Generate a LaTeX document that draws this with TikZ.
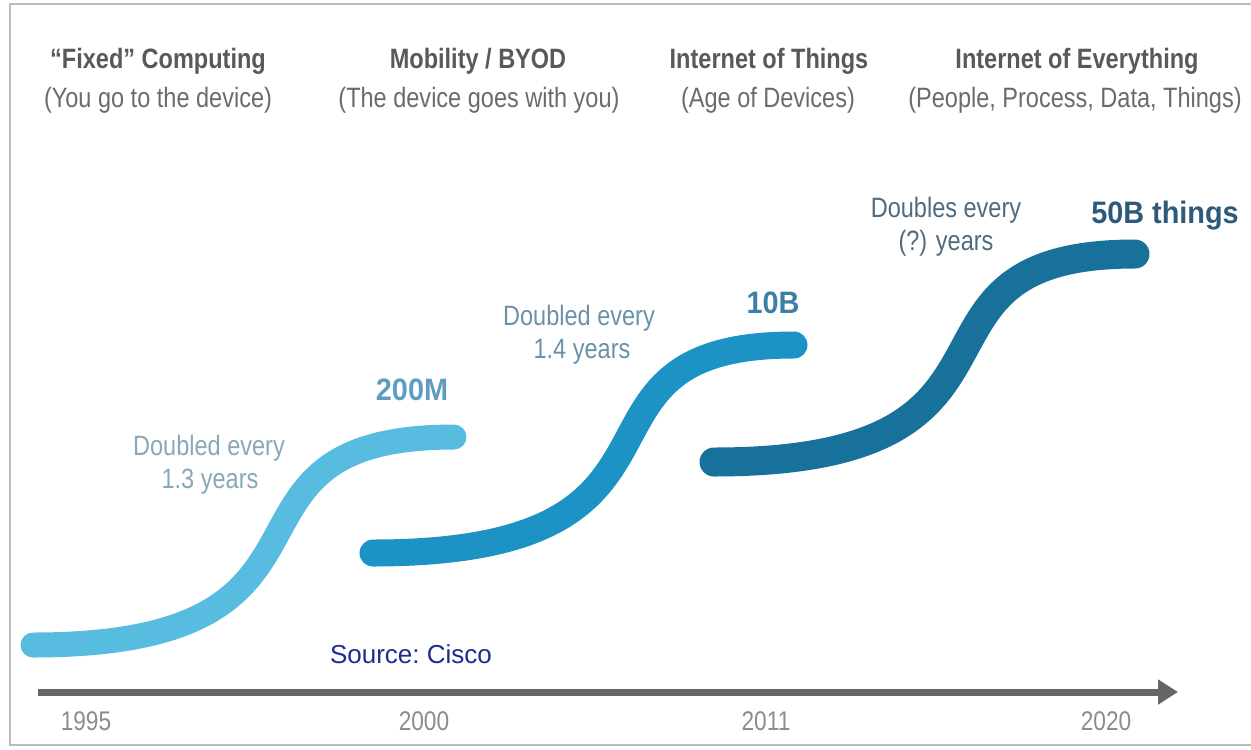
\documentclass[tikz,border=0pt]{standalone}
\usepackage{fontspec}
\setmainfont{Liberation Sans}[FakeStretch=0.84]
\newfontfamily\countfont{Liberation Sans}[FakeStretch=0.93]
\newfontfamily\srcfont{Liberation Sans}
\usetikzlibrary{arrows.meta}

\definecolor{frame}{HTML}{BDBDBD}
\definecolor{headgray}{HTML}{595959}
\definecolor{subgray}{HTML}{6B6B6B}
\definecolor{yeargray}{HTML}{8C8C8C}
\definecolor{axisgray}{HTML}{666666}
\definecolor{wave1}{HTML}{58BBE0}
\definecolor{wave2}{HTML}{1C93C4}
\definecolor{wave3}{HTML}{17719A}
\definecolor{rate1}{HTML}{86A8BA}
\definecolor{rate2}{HTML}{6A91A8}
\definecolor{rate3}{HTML}{4E6B80}
\definecolor{count1}{HTML}{5F9DC0}
\definecolor{count2}{HTML}{3C80A8}
\definecolor{count3}{HTML}{2C5A78}
\definecolor{cisco}{HTML}{1C2D8C}

\begin{document}
\begin{tikzpicture}[x=1pt,y=-1pt]
    \tikzset{head/.style = {anchor=base,inner sep=0pt,text=headgray,font=\fontsize{28}{34}\selectfont\bfseries}}
    \tikzset{sub/.style = {anchor=base,inner sep=0pt,text=subgray,font=\fontsize{28}{34}\selectfont}}
    \tikzset{rate/.style = {anchor=base,inner sep=0pt,font=\fontsize{28}{34}\selectfont}}
    \tikzset{count/.style = {anchor=base,inner sep=0pt,font=\countfont\fontsize{31}{36}\selectfont\bfseries}}
    \tikzset{year/.style = {anchor=base,inner sep=0pt,text=yeargray,font=\fontsize{27}{32}\selectfont}}
    \tikzset{wave/.style = {line cap=round}}
    \useasboundingbox (0,0) rectangle (1251,750);
    % frame
    \draw[frame,line width=2pt] (1251,4) -- (10,4) -- (10,745) -- (1251,745);
    % headings
    \node[head] (H1) at (158,68) {“Fixed” Computing};
    \node[head] (H2) at (478,68) {Mobility / BYOD};
    \node[head] (H3) at (769,68) {Internet of Things};
    \node[head] (H4) at (1077,68) {Internet of Everything};
    \node[sub] (S1) at (158,107) {(You go to the device)};
    \node[sub] (S2) at (479,107) {(The device goes with you)};
    \node[sub] (S3) at (768,107) {(Age of Devices)};
    \node[sub] (S4) at (1075,107) {(People, Process, Data, Things)};
    % waves
    \draw[wave,wave1,line width=25pt] (33,645) .. controls (378,645) and (189,437) .. (454,437);
    \draw[wave,wave2,line width=27pt] (373,553) .. controls (730,553) and (541,345) .. (794,345);
    \draw[wave,wave3,line width=29pt] (714,462) .. controls (1065,462) and (876,254) .. (1135,254);
    % rates and counts
    \node[rate,text=rate1] (R1) at (209,455) {Doubled every};
    \node[rate,text=rate1] (Q1) at (210,488) {1.3 years};
    \node[rate,text=rate2] (R2) at (579,325) {Doubled every};
    \node[rate,text=rate2] (Q2) at (582,358) {1.4 years};
    \node[rate,text=rate3] (R3) at (946,217) {Doubles every};
    \node[rate,text=rate3] (Q3) at (946,250) {(?) years};
    \node[count,text=count1] (C1) at (412,400) {200M};
    \node[count,text=count2] (C2) at (773,313) {10B};
    \node[count,text=count3] (C3) at (1165,223) {50B things};
    \node[anchor=base,inner sep=0pt,text=cisco,font=\srcfont\fontsize{26}{31}\selectfont\frenchspacing] (src) at (411,663) {Source: Cisco};
    % time axis
    \coordinate (A0) at (38,692);
    \coordinate (A1) at (1178,692);
    \draw[axisgray,line width=7pt,-{Triangle[length=20pt,width=24pt]}] (A0) -- (A1);
    \node[year] (T1) at (86,730) {1995};
    \node[year] (T2) at (424,730) {2000};
    \node[year] (T3) at (766,730) {2011};
    \node[year] (T4) at (1106,730) {2020};
\end{tikzpicture}
\end{document}
